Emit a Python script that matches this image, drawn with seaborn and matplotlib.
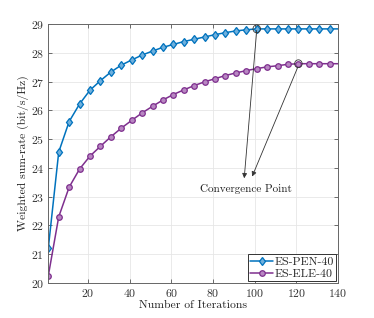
import matplotlib
matplotlib.use("Agg")
import matplotlib.pyplot as plt
from matplotlib.patches import Ellipse
import seaborn as sns
import pandas as pd

iterations = [1, 6, 11, 16, 21, 26, 31, 36, 41, 46, 51, 56, 61, 66, 71, 76, 81, 86,
              91, 96, 101, 106, 111, 116, 121, 126, 131, 136, 140]
pen_rate = [21.21, 24.55, 25.61, 26.22, 26.70, 27.03, 27.33, 27.57, 27.75, 27.92,
            28.06, 28.19, 28.29, 28.39, 28.47, 28.55, 28.63, 28.70, 28.76, 28.80,
            28.83, 28.83, 28.83, 28.83, 28.83, 28.83, 28.83, 28.83, 28.83]
ele_rate = [20.25, 22.30, 23.33, 23.96, 24.41, 24.75, 25.08, 25.38, 25.65, 25.91,
            26.14, 26.36, 26.55, 26.71, 26.86, 26.99, 27.10, 27.21, 27.30, 27.38,
            27.45, 27.51, 27.55, 27.60, 27.62, 27.62, 27.62, 27.62, 27.62]
series_names = ["ES-PEN-40", "ES-ELE-40"]
conv_iters = [101, 121]
conv_vals = [28.83, 27.62]
annot_text = "Convergence Point"

sns.set_style("whitegrid")
plt.rcParams['font.family'] = ['cmr10', 'DejaVu Serif']
plt.rcParams['axes.formatter.use_mathtext'] = True
plt.rcParams['mathtext.fontset'] = 'cm'

fig = plt.figure(figsize=(3.74, 3.18), dpi=100)
ax = fig.add_axes([48.3/374, 1-283/318, (338-48.3)/374, (283-24)/318])

blue = "#0072BD"
purple = "#7E2F8E"
df = pd.DataFrame({"it": iterations, "pen": pen_rate, "ele": ele_rate})
mk = list(range(len(iterations) - 1))
sns.lineplot(data=df, x="it", y="pen", ax=ax, color=blue, marker="d", markersize=4.5,
             markevery=mk, markerfacecolor="#6FB0DD", markeredgecolor=blue,
             markeredgewidth=0.9, linewidth=1.1, label=series_names[0])
sns.lineplot(data=df, x="it", y="ele", ax=ax, color=purple, marker="o", markersize=4,
             markevery=mk, markerfacecolor="#B887C2", markeredgecolor=purple,
             markeredgewidth=0.9, linewidth=1.1, label=series_names[1])

ax.set_xlim(1, 140)
ax.set_ylim(20, 29)
ax.set_xticks([20, 40, 60, 80, 100, 120, 140])
ax.set_yticks(range(20, 30))
ax.tick_params(axis="both", which="both", direction="in", length=3, width=0.6,
               color="#555555", labelsize=8.5, labelcolor="#333333", pad=3,
               top=True, right=True, bottom=True, left=True)
ax.grid(True, color="#e6e6e6", linewidth=0.6)
for s in ax.spines.values():
    s.set_color("#666666")
    s.set_linewidth(0.7)
ax.set_xlabel("Number of Iterations", fontsize=8.4, color="#222222", labelpad=1)
ax.set_ylabel("Weighted sum-rate (bit/s/Hz)", fontsize=8.4, color="#222222", labelpad=1)

for cx, cy in zip(conv_iters, conv_vals):
    ax.add_patch(Ellipse((cx, cy), width=3.6, height=0.27, fill=False,
                         edgecolor="#333333", linewidth=0.6, zorder=5))

ax.annotate("", xy=(95, 23.64), xytext=(conv_iters[0], conv_vals[0] - 0.05),
            arrowprops=dict(arrowstyle="-|>", color="#333333", lw=0.6,
                            mutation_scale=7, shrinkA=0, shrinkB=0))
ax.annotate("", xy=(98.8, 23.70), xytext=(conv_iters[1] - 0.3, conv_vals[1] - 0.12),
            arrowprops=dict(arrowstyle="-|>", color="#333333", lw=0.6,
                            mutation_scale=7, shrinkA=0, shrinkB=0))
ax.text(96, 23.27, annot_text, ha="center", va="center", fontsize=8, color="#222222")

leg = ax.legend(loc="lower right", fontsize=8.5, frameon=True, fancybox=False,
                borderpad=0.2, handlelength=1.9, handletextpad=0.15,
                labelspacing=0.15, borderaxespad=0.15)
leg.get_frame().set_edgecolor("#333333")
leg.get_frame().set_linewidth(0.7)
leg.get_frame().set_alpha(1)

fig.savefig("out.png", dpi=100)
